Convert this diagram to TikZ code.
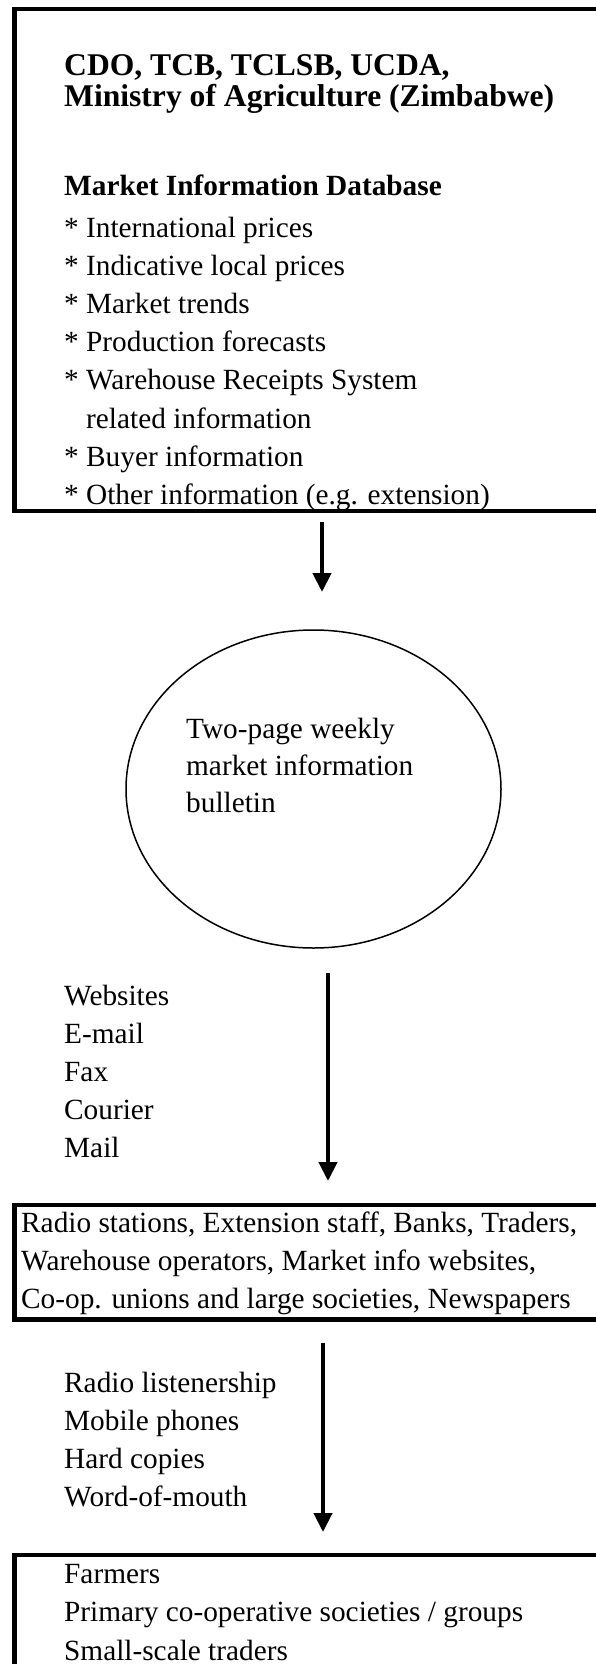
\documentclass[tikz,border=0pt]{standalone}
\usepackage{fontspec}
\setmainfont{Liberation Serif}
\usetikzlibrary{arrows.meta,shapes.geometric,positioning}

\begin{document}
\begin{tikzpicture}[
  x=1pt, y=-1pt,
  panel/.style={rectangle, draw, line width=4.2pt, outer sep=0pt, inner sep=0pt, anchor=north west},
  txt/.style={anchor=base west, inner sep=0pt, font=\fontsize{29.3}{38}\selectfont},
  head/.style={txt, font=\fontsize{31.6}{31}\selectfont\bfseries},
  flow/.style={-{Triangle[length=19pt,width=18pt]}, line width=4.2pt}
]
\useasboundingbox (0,0) rectangle (596,1664);
\clip (0,0) rectangle (596,1664);

% database box (runs off the right edge)
\node[panel, minimum width=615pt, minimum height=502pt] (db) at (14.5,9) {};
\node[head] (org1) at (64,76) {CDO, TCB, TCLSB, UCDA,};
\node[head] (org2) at (64,107) {Ministry of Agriculture (Zimbabwe)};
\node[txt, font=\fontsize{29.3}{38}\selectfont\bfseries] (dbtitle) at (64,196) {Market Information Database};
\foreach \item [count=\i from 0] in {{* International prices},{* Indicative local prices},
    {* Market trends},{* Production forecasts},{* Warehouse Receipts System}}
  \node[txt] (item\i) at (64,237+38.2*\i) {\item};
\node[txt] (item5) at (86,428) {related information};
\node[txt] (item6) at (64,466.2) {* Buyer information};
\node[txt] (item7) at (64,504.4) {* Other information (e.g. extension)};

% bulletin
\node[ellipse, draw, line width=1.5pt, outer sep=0pt, minimum width=375pt, minimum height=318pt] (bulletin) at (313.5,789) {};
\foreach \line [count=\i from 0] in {Two-page weekly,market information,bulletin}
  \node[txt] (bul\i) at (186,738+37*\i) {\line};

\draw[flow] ([yshift=-11pt]db.south) -- ([yshift=38pt]db.south |- bulletin.north);

% intermediaries
\node[panel, minimum width=615pt, minimum height=114.5pt] (mid) at (14.5,1205) {};
\foreach \line [count=\i from 0] in {{Radio stations, Extension staff, Banks, Traders,},
    {Warehouse operators, Market info websites,},{Co-op. unions and large societies, Newspapers}}
  \node[txt] (mid\i) at (21,1232+38*\i) {\line};

\coordinate (c2top) at (328,973);
\draw[flow] (c2top) -- ([yshift=24pt]c2top |- mid.north);
\foreach \chan [count=\i from 0] in {Websites,E-mail,Fax,Courier,Mail}
  \node[txt] (chan\i) at (64,1005+38*\i) {\chan};

% end users (runs off the bottom edge)
\node[panel, minimum width=615pt, minimum height=200pt] (users) at (14.5,1555) {};
\foreach \line [count=\i from 0] in {Farmers,Primary co-operative societies / groups,Small-scale traders}
  \node[txt] (user\i) at (64,1583+38.5*\i) {\line};

\draw[flow] ([yshift=-23.5pt]mid.south -| 323,0) -- ([yshift=23pt]users.north -| 323,0);
\foreach \chan [count=\i from 0] in {Radio listenership,Mobile phones,Hard copies,Word-of-mouth}
  \node[txt] (reach\i) at (64,1392+38*\i) {\chan};
\end{tikzpicture}
\end{document}
